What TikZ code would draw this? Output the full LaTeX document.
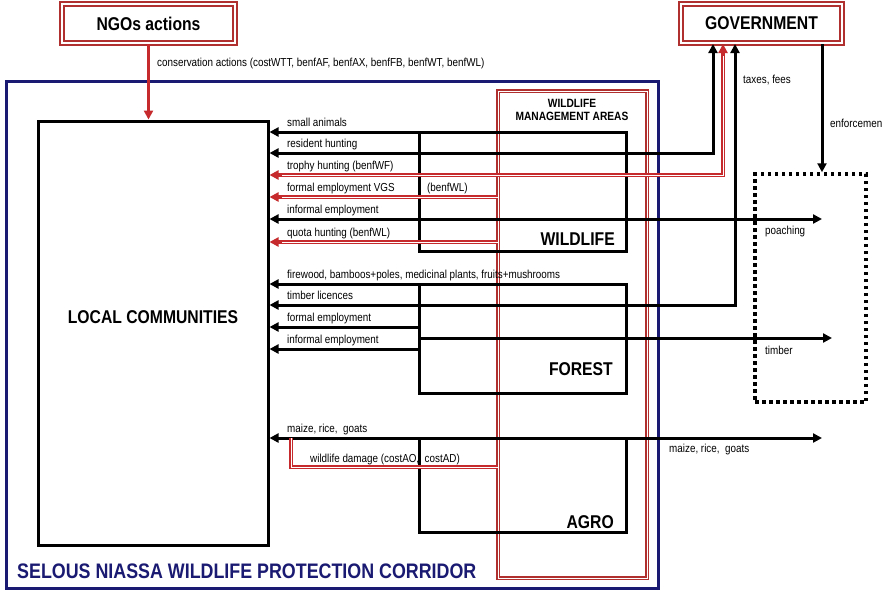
\documentclass[tikz,border=0pt]{standalone}
\usepackage{fontspec}
\setmainfont[FakeStretch=0.85]{Liberation Sans}
\usetikzlibrary{arrows.meta,calc}
\definecolor{boxred}{HTML}{B0302F}
\definecolor{arrred}{HTML}{C62A2C}
\definecolor{navy}{HTML}{1A1A72}
\begin{document}
\begin{tikzpicture}[x=1pt,y=-1pt,
  lab/.style={font=\fontsize{11.6}{13}\selectfont, anchor=base west, inner sep=0pt},
  ttl/.style={font=\fontsize{18.5}{20}\selectfont\bfseries, inner sep=0pt},
  blk/.style={draw=black, line width=3pt},
  sector/.style={draw=black, line width=3pt, inner sep=0pt, outer sep=0pt},
  hd/.style={-{Triangle[length=9pt,width=9pt]}},
  hh/.style={{Triangle[length=9pt,width=9pt]}-{Triangle[length=9pt,width=9pt]}},
  rdbl/.style={draw=arrred, line width=1.8pt, double=white, double distance=0.9pt},
  rtip/.style={draw=arrred, line width=4pt, -{Triangle[length=9pt,width=9pt]}},
  gbox/.style={draw=boxred, line width=2pt, double=white, double distance=1.2pt, fill=white, inner sep=0pt},
]
\useasboundingbox (0,0) rectangle (882,590);
\fill[white] (0,0) rectangle (882,590);

% corridor frame
\node[draw=navy, line width=3pt, minimum width=652pt, minimum height=507pt, inner sep=0pt] (frame) at (332,334.5) {};
\node[text=navy, font=\fontsize{21}{22}\selectfont\bfseries, anchor=base west, inner sep=0pt] (sel) at (17,578) {SELOUS NIASSA WILDLIFE PROTECTION CORRIDOR};

% wildlife management areas
\node[draw=boxred, line width=1.7pt, double=white, double distance=1pt, minimum width=149pt, minimum height=487pt, inner sep=0pt, outer sep=0pt] (wma) at (572.5,334.5) {};
\node[font=\fontsize{12}{13}\selectfont\bfseries, align=center, inner sep=0pt] (wmat) at (572,110) {WILDLIFE\\MANAGEMENT AREAS};

% local communities
\node[blk, minimum width=230pt, minimum height=424pt, inner sep=0pt] (lc) at (153,333) {};
\node[ttl] (lct) at (153,317) {LOCAL COMMUNITIES};

% sectors
\node[sector, minimum width=207pt, minimum height=119pt] (wl) at (522.5,191.5) {};
\node[sector, minimum width=207pt, minimum height=109pt] (fo) at (522.5,338.5) {};
\node[sector, minimum width=207pt, minimum height=94pt] (ag) at (522.5,485) {};
\node[ttl, anchor=base east] (wlt) at (615,245) {WILDLIFE};
\node[ttl, anchor=base east] (fot) at (613,375) {FOREST};
\node[ttl, anchor=base east] (agt) at (614,528) {AGRO};

% outside actors
\node[gbox, minimum width=173pt, minimum height=39pt, font=\fontsize{18.5}{20}\selectfont\bfseries] (ngo) at (148.5,23.5) {NGOs actions};
\node[gbox, minimum width=161pt, minimum height=39pt, font=\fontsize{18.5}{20}\selectfont\bfseries] (gov) at (761.5,23.5) {GOVERNMENT};
\node[draw=black, line width=3.5pt, dash pattern=on 3.5pt off 3.5pt, minimum width=111pt, minimum height=228pt, inner sep=0pt] (dot) at (810.5,288) {};

% x positions of vertical connectors
\coordinate (xA) at (713,0);
\coordinate (xB) at (723,0);
\coordinate (xC) at (735,0);
\coordinate (xE) at (822,0);
\coordinate (xT) at (832,0);
\coordinate (wd) at (291,438);

% NGO arrow
\draw[draw=arrred, line width=2.5pt, hd] (ngo.south) -- (lc.north -| ngo.south);
\node[lab] (cons) at (157,66) {conservation actions (costWTT, benfAF, benfAX, benfFB, benfWT, benfWL)};

% wildlife flows
\draw[blk, hd] (wl.north east) -- (lc.east |- wl.north east);
\draw[blk, hh] (lc.east |- 0,153) -| (xA |- gov.south);
\draw[rdbl, shorten <=8pt, shorten >=8pt] (lc.east |- 0,175) -| (xB |- gov.south);
\draw[rtip] ($(lc.east |- 0,175)+(12,0)$) -- (lc.east |- 0,175);
\draw[rtip] ($(xB |- gov.south)+(0,12)$) -- (xB |- gov.south);
\draw[rdbl, shorten >=8pt] (wma.west |- 0,197) -- (lc.east |- 0,197);
\draw[rtip] ($(lc.east |- 0,197)+(12,0)$) -- (lc.east |- 0,197);
\draw[blk, hh] (lc.east |- 0,219) -- (xE |- 0,219);
\draw[rdbl, shorten >=8pt] (wma.west |- 0,242) -- (lc.east |- 0,242);
\draw[rtip] ($(lc.east |- 0,242)+(12,0)$) -- (lc.east |- 0,242);

\node[lab] (l1) at (287,126) {small animals};
\node[lab] (l2) at (287,147) {resident hunting};
\node[lab] (l3) at (287,169) {trophy hunting (benfWF)};
\node[lab] (l4) at (287,191) {formal employment VGS};
\node[lab] (l4b) at (427,191) {(benfWL)};
\node[lab] (l5) at (287,213) {informal employment};
\node[lab] (l6) at (287,236) {quota hunting (benfWL)};

% forest flows
\draw[blk, hd] (fo.north east) -- (lc.east |- fo.north east);
\draw[blk, hh] (lc.east |- 0,305) -| (xC |- gov.south);
\draw[blk, hd] (fo.west |- 0,327) -- (lc.east |- 0,327);
\draw[blk, hd] (fo.west |- 0,349) -- (lc.east |- 0,349);
\draw[blk, hd] (fo.west |- 0,338) -- (xT |- 0,338);

\node[lab] (l7) at (287,278) {firewood, bamboos+poles, medicinal plants, fruits+mushrooms};
\node[lab] (l8) at (287,299) {timber licences};
\node[lab] (l9) at (287,321) {formal employment};
\node[lab] (l10) at (287,343) {informal employment};

% agro flows
\draw[blk, hh] (lc.east |- 0,438) -- (xE |- 0,438);
\draw[rdbl] (wd) |- (wma.west |- 0,467);
\node[lab] (l11) at (287,432) {maize, rice,\ \ goats};
\node[lab] (l12) at (669,452) {maize, rice,\ \ goats};
\node[lab] (l13) at (310,462) {wildlife damage (costAO,\ \ costAD)};

% government
\draw[blk, hd] (xE |- gov.south) -- (xE |- dot.north);
\node[lab] (l14) at (743,83) {taxes, fees};
\node[lab] (l15) at (830,127) {enforcement};
\node[lab] (l16) at (765,234) {poaching};
\node[lab] (l17) at (765,354) {timber};
\end{tikzpicture}
\end{document}
